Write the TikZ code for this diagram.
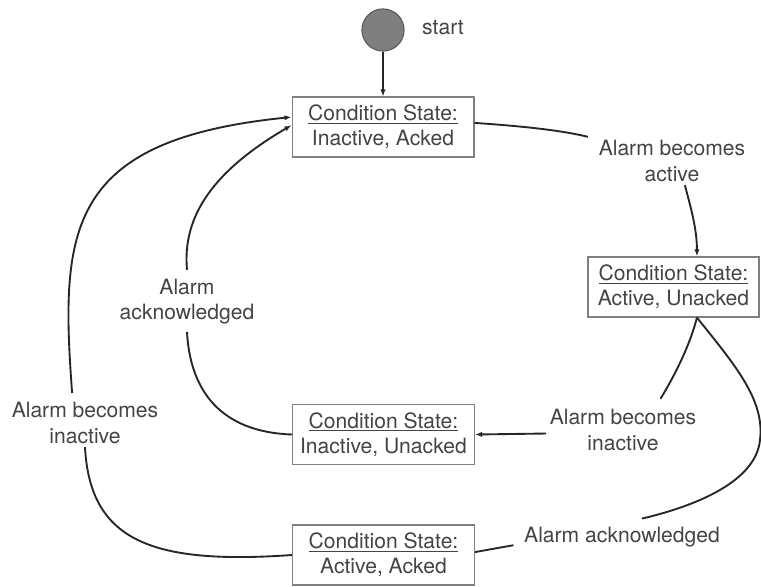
\documentclass[tikz,border=0pt]{standalone}
\usepackage{fontspec}
\setmainfont{TeX Gyre Heros}
\usepackage{tikz}
\usetikzlibrary{arrows.meta}
\definecolor{txtgray}{HTML}{444444}
\definecolor{boxgray}{HTML}{808080}
\definecolor{dotgray}{HTML}{7F7F7F}
\tikzstyle{condbox}=[draw=boxgray, line width=1.2pt, fill=white, align=center, minimum width=155pt, minimum height=51pt, inner sep=2pt, text=txtgray, font=\fontsize{18}{21.5}\selectfont]
\tikzstyle{eventlbl}=[align=center, inner sep=3pt, text=txtgray, font=\fontsize{18}{21.5}\selectfont]
\tikzstyle{startdot}=[circle, draw=black!65, line width=0.9pt, fill=dotgray, minimum size=36pt, inner sep=0pt]
\tikzstyle{trans}=[line width=1.6pt, black!85]
\tikzstyle{arr}=[trans, -{Latex[length=6pt,width=4.5pt]}]
\newcommand{\condstate}[1]{\underline{Condition State:}\\#1}

\begin{document}
\begin{tikzpicture}[x=0.03cm, y=-0.03cm]
    \useasboundingbox (0,0) rectangle (761,586);
    % states
    \node[startdot] (init) at (383, 30) {};
    \node[eventlbl] (initlbl) at (443, 28) {start};
    \node[condbox] (inack) at (383, 127) {\condstate{Inactive, Acked}};
    \node[condbox, minimum width=146pt] (actunack) at (673.5, 287) {\condstate{Active, Unacked}};
    \node[condbox] (inunack) at (383.5, 434.5) {\condstate{Inactive, Unacked}};
    \node[condbox] (actack) at (383.5, 555) {\condstate{Active, Acked}};
    % transition labels
    \node[eventlbl] (becact) at (672, 161) {Alarm becomes\\active};
    \node[eventlbl] (becinR) at (623, 430) {Alarm becomes\\inactive};
    \node[eventlbl] (ackR) at (622, 537) {Alarm acknowledged};
    \node[eventlbl] (becinL) at (85, 423) {Alarm becomes\\inactive};
    \node[eventlbl] (ackL) at (187, 302) {Alarm\\acknowledged};
    % transitions
    \draw[arr, line width=1pt] (init) -- (inack);
    \draw[trans] ([yshift=3.5pt]inack.east) .. controls (520,126) and (560,130) .. ([xshift=-6pt]becact.north west);
    \draw[arr] ([xshift=11pt]becact.south) .. controls (690,205) and (697,228) .. ([xshift=20pt]actunack.north);
    \draw[trans] ([xshift=20pt]actunack.south) .. controls (690,345) and (675,375) .. ([xshift=32pt,yshift=6pt]becinR.north);
    \draw[arr] ([yshift=-3pt]becinR.west) -- (inunack.east);
    \draw[trans] ([xshift=20pt]actunack.south) .. controls (735,365) and (765,400) .. (760,440)
        .. controls (756,480) and (700,505) .. ([xshift=17pt,yshift=4pt]ackR.north);
    \draw[trans] ([xshift=-6pt,yshift=-7pt]ackR.west) -- ([yshift=2.5pt]actack.east);
    \draw[trans] (actack.west) .. controls (150,565) and (90,540) .. (becinL.south);
    \draw[arr] ([xshift=-11pt,yshift=5pt]becinL.north) .. controls (60,230) and (66,140) .. ([yshift=8.5pt]inack.west);
    \draw[arr] ([yshift=5pt]ackL.north) .. controls (182,215) and (215,170) .. ([yshift=1.5pt]inack.west);
    \draw[trans] ([yshift=-3pt]ackL.south) .. controls (190,390) and (220,432) .. (inunack.west);
\end{tikzpicture}
\end{document}
